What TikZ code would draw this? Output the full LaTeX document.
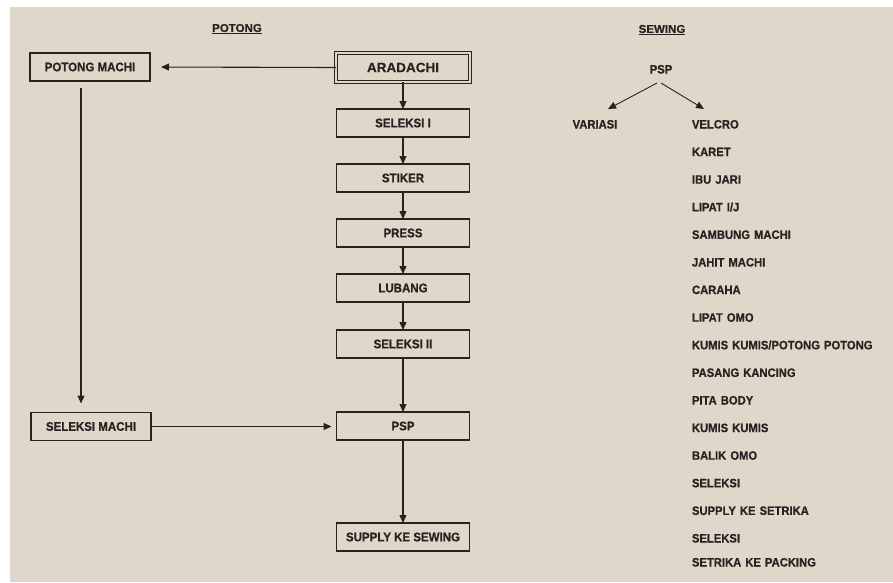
\documentclass[tikz,border=0pt]{standalone}
\usepackage{fontspec}
\setmainfont{Liberation Sans}
\newfontfamily\narrowfont{Liberation Sans}[FakeStretch=0.92, FakeBold=0.6]
\newfontfamily\heavyfont{Liberation Sans}[FakeBold=0.6]
\usepackage{tikz}
\usetikzlibrary{arrows.meta, positioning}
\definecolor{paper}{RGB}{222,215,202}
\definecolor{ink}{RGB}{40,35,32}

\begin{document}
\begin{tikzpicture}[
    x=1pt, y=-1pt,
    node distance=27pt,
    box/.style={rectangle, draw=ink, line width=1.2pt, minimum width=133pt,
                minimum height=28pt, inner sep=0pt, outer sep=0pt, align=center,
                font=\narrowfont\fontsize{12.5}{14}\selectfont\bfseries, text=ink},
    side/.style={box, minimum width=120pt},
    lbl/.style={inner sep=2pt, outer sep=0pt, text height=9pt, text depth=0pt,
                font=\narrowfont\fontsize{12.2}{14}\selectfont\bfseries, text=ink},
    item/.style={lbl, text width=190pt, align=left},
    title/.style={font=\heavyfont\fontsize{11.5}{13}\selectfont\bfseries, text=ink},
    arr/.style={-{Triangle[length=8pt,width=7pt]}, line width=1.1pt, draw=ink},
]
\useasboundingbox (0,0) rectangle (893,582);
\fill[white] (0,0) rectangle (893,582);
\fill[paper] (10,7) rectangle (893,582);

% Headings
\node[title] (tpot) at (237,29) {\underline{POTONG}};
\node[title] (tsew) at (662,30) {\underline{SEWING}};

% Main column — Potong
\node[box, double=paper, double distance=1.8pt, minimum width=134pt,
      minimum height=29pt, font=\heavyfont\fontsize{13.5}{15}\selectfont\bfseries]
      (ara) at (403,67.5) {ARADACHI};
\node[box, below=of ara]      (sel1) {SELEKSI I};
\node[box, below=of sel1]     (stk)  {STIKER};
\node[box, below=of stk]      (prs)  {PRESS};
\node[box, below=of prs]      (lub)  {LUBANG};
\node[box, below=28pt of lub] (sel2) {SELEKSI II};
\node[box, below=54pt of sel2] (psp) {PSP};
\node[box, below=83pt of psp] (sup)  {SUPPLY KE SEWING};

% Left column — Machi
\node[side] (pm) at (90,67)    {POTONG MACHI};
\node[side] (sm) at (91,426.5) {SELEKSI MACHI};

% Arrows main column
\draw[arr] (ara) -- (sel1);
\draw[arr] (sel1) -- (stk);
\draw[arr] (stk) -- (prs);
\draw[arr] (prs) -- (lub);
\draw[arr] (lub) -- (sel2);
\draw[arr] (sel2) -- (psp);
\draw[arr] (psp) -- (sup);

% Arrows left column
\draw[arr, shorten >=11pt] (ara.west) -- (pm.east);
\draw[arr, shorten <=7pt, shorten >=9pt] ([xshift=-9pt]pm.south) -- ([xshift=-10pt]sm.north);
\draw[arr, shorten >=5pt] (sm.east) -- (sm.east -| psp.west);

% Sewing
\node[lbl] (psp2) at (661,69)  {PSP};
\node[lbl] (var)  at (595,124) {VARIASI};
\node[item, anchor=west] (vel) at (690,124) {VELCRO};
\node[item, below=14.6pt of vel]  (kar)  {KARET};
\node[item, below=14.6pt of kar]  (ibu)  {IBU JARI};
\node[item, below=14.6pt of ibu]  (lij)  {LIPAT I/J};
\node[item, below=14.6pt of lij]  (sam)  {SAMBUNG MACHI};
\node[item, below=14.6pt of sam]  (jah)  {JAHIT MACHI};
\node[item, below=14.6pt of jah]  (car)  {CARAHA};
\node[item, below=14.6pt of car]  (lom)  {LIPAT OMO};
\node[item, below=14.6pt of lom]  (kkp)  {KUMIS KUMIS/POTONG POTONG};
\node[item, below=14.6pt of kkp]  (pas)  {PASANG KANCING};
\node[item, below=14.6pt of pas]  (pit)  {PITA BODY};
\node[item, below=14.6pt of pit]  (kum)  {KUMIS KUMIS};
\node[item, below=14.6pt of kum]  (bal)  {BALIK OMO};
\node[item, below=14.6pt of bal]  (sl1)  {SELEKSI};
\node[item, below=14.6pt of sl1]  (sst)  {SUPPLY KE SETRIKA};
\node[item, below=14.6pt of sst]  (sl2)  {SELEKSI};
\node[item, below=11pt of sl2]    (skp)  {SETRIKA KE PACKING};

\draw[arr, line width=0.9pt] ([xshift=-4pt,yshift=-7.5pt]psp2.south) -- ([xshift=13pt,yshift=8.5pt]var.north);
\draw[arr, line width=0.9pt] ([yshift=-7.5pt]psp2.south) -- ([xshift=14pt,yshift=8.5pt]vel.north west);

\end{tikzpicture}
\end{document}
